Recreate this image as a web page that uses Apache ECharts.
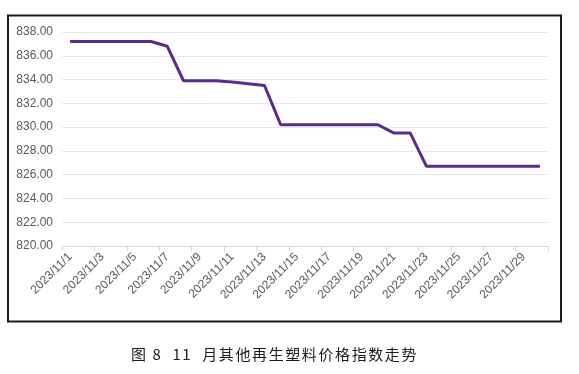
<!DOCTYPE html>
<html>
<head>
<meta charset="utf-8">
<script src="https://cdn.jsdelivr.net/npm/echarts@6/dist/echarts.min.js"></script>
<style>
html,body{margin:0;padding:0;background:#fff;}
#chart{width:579px;height:374px;position:absolute;left:0;top:0;}
#cap{position:absolute;left:131px;top:344px;font-family:"Noto Sans CJK SC",sans-serif;font-size:15px;letter-spacing:1.6px;color:#231815;line-height:20px;white-space:pre;}
#cap .s3{word-spacing:5px;}
</style>
</head>
<body>
<div id="chart"></div>
<div id="cap">图 8  11<span class="s3"> </span>月其他再生塑料价格指数走势</div>
<script>
const categories = [];
for (let d = 1; d <= 30; d++) categories.push('2023/11/' + d);
const values = [
  837.2, 837.2, 837.2, 837.2, 837.2, 837.2,
  836.8,
  833.9, 833.9, 833.9, 833.8, 833.65, 833.5,
  830.2, 830.2, 830.2, 830.2, 830.2, 830.2, 830.2,
  829.5, 829.5,
  826.7, 826.7, 826.7, 826.7, 826.7, 826.7, 826.7, 826.7
];
const yMin = 820, yMax = 838, yStep = 2;

const chart = echarts.init(document.getElementById('chart'), null, {renderer: 'canvas'});
chart.setOption({
  animation: false,
  backgroundColor: '#fff',
  grid: {left: 62, right: 31, top: 32, bottom: 128, containLabel: false},
  graphic: [{
    type: 'rect', silent: true,
    shape: {x: 8, y: 15.5, width: 553, height: 306},
    style: {fill: 'none', stroke: '#231815', lineWidth: 2}
  }],
  xAxis: {
    type: 'category',
    data: categories,
    boundaryGap: true,
    axisLine: {lineStyle: {color: '#d9d9d9', width: 1}},
    axisTick: {show: true, interval: 1, length: 5, lineStyle: {color: '#d9d9d9'}},
    axisLabel: {interval: 1, rotate: 45, margin: 9, fontSize: 12, color: '#595959', fontFamily: 'Liberation Sans'}
  },
  yAxis: {
    type: 'value',
    min: yMin, max: yMax, interval: yStep,
    axisLine: {show: false},
    axisTick: {show: false},
    splitLine: {lineStyle: {color: '#e8e8e8', width: 1}},
    axisLabel: {margin: 9, fontSize: 12, color: '#595959', fontFamily: 'Liberation Sans',
      formatter: v => v.toFixed(2)}
  },
  series: [{
    type: 'line',
    data: values,
    symbol: 'none',
    lineStyle: {color: '#5b2a90', width: 3},
    itemStyle: {color: '#5b2a90'}
  }]
});
</script>
</body>
</html>
